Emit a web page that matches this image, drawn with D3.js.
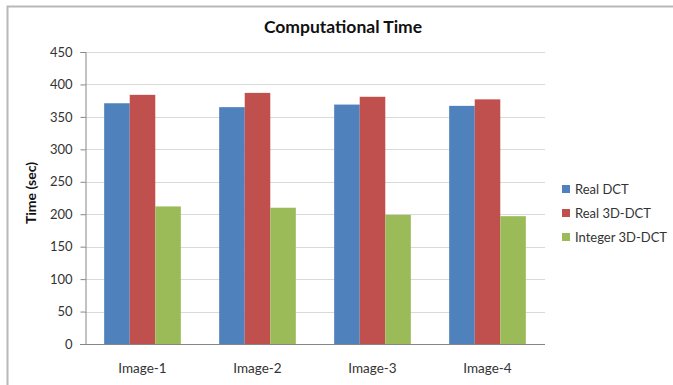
<!DOCTYPE html>
<html><head><meta charset="utf-8">
<script src="https://cdn.jsdelivr.net/npm/d3@7"></script>
<style>body{margin:0;background:#fff}svg{display:block}text{font-family:Lato,"Open Sans",sans-serif}</style>
</head><body>
<svg id="c" width="673" height="385"></svg>
<script>
const categories = ["Image-1", "Image-2", "Image-3", "Image-4"];
const seriesNames = ["Real DCT", "Real 3D-DCT", "Integer 3D-DCT"];
const realDCT = [371, 365, 369, 367];
const real3D = [384, 387, 381, 377];
const int3D = [212, 210, 199, 197];
const yTicks = [0, 50, 100, 150, 200, 250, 300, 350, 400, 450];
const colors = ["#4f81bd", "#c0504d", "#9bbb59"];
const series = [realDCT, real3D, int3D];

const svg = d3.select("#c");
// chart border (cropped: only top and left visible)
svg.append("rect").attr("x", 7.5).attr("y", 6.5).attr("width", 700).attr("height", 420)
  .attr("fill", "none").attr("stroke", "#b8b8b8").attr("stroke-width", 2);

const pL = 85, pR = 545, pT = 52, pB = 344;
const x = d3.scaleBand().domain(categories).range([pL, pR]).paddingInner(0).paddingOuter(0);
const y = d3.scaleLinear().domain([0, 450]).range([pB, pT]);
const barW = x.bandwidth() / (3 + 1.5);
const gx = d3.scaleBand().domain(d3.range(3)).range([0, barW * 3]);

// gridlines
svg.append("g").selectAll("line").data(yTicks.filter(d => d > 0)).join("line")
  .attr("x1", pL).attr("x2", pR).attr("y1", d => Math.round(y(d)) + 0.5).attr("y2", d => Math.round(y(d)) + 0.5)
  .attr("stroke", "#d9d9d9").attr("stroke-width", 1);

// bars
series.forEach((vals, si) => {
  svg.append("g").selectAll("rect").data(vals).join("rect")
    .attr("x", (d, i) => x(categories[i]) + barW * 0.75 + gx(si))
    .attr("width", gx.bandwidth())
    .attr("y", d => y(d)).attr("height", d => y(0) - y(d))
    .attr("fill", colors[si]);
});

// y axis
const yAxis = d3.axisLeft(y).tickValues(yTicks).tickSize(5).tickPadding(8);
const ya = svg.append("g").attr("transform", `translate(${pL + 0.5},0)`).call(yAxis);
ya.select(".domain").attr("stroke", "#868686");
ya.selectAll(".tick line").attr("stroke", "#868686");
ya.selectAll("text").attr("font-size", 13).attr("fill", "#333").style("font-family", "Lato, sans-serif");

// x axis baseline
svg.append("line").attr("x1", pL - 5).attr("x2", pR).attr("y1", pB + 0.5).attr("y2", pB + 0.5).attr("stroke", "#868686");
svg.append("g").selectAll("text").data(categories).join("text")
  .attr("x", d => x(d) + x.bandwidth() / 2).attr("y", 373)
  .attr("text-anchor", "middle").attr("font-size", 13.5).attr("fill", "#333").text(d => d);

// title
svg.append("text").attr("x", 343).attr("y", 33).attr("text-anchor", "middle")
  .attr("font-size", 17.5).attr("font-weight", "bold").attr("fill", "#111").text("Computational Time");

// y label
svg.append("text").attr("transform", "translate(36,193) rotate(-90)").attr("text-anchor", "middle")
  .attr("font-size", 14).attr("font-weight", "bold").attr("fill", "#111").text("Time (sec)");

// legend
const lg = svg.append("g").selectAll("g").data(seriesNames).join("g")
  .attr("transform", (d, i) => `translate(562,${189 + i * 24})`);
lg.append("rect").attr("x", 0).attr("y", -4).attr("width", 8).attr("height", 8).attr("fill", (d, i) => colors[i]);
lg.append("text").attr("x", 13).attr("y", 4.5).attr("font-size", 13).attr("fill", "#333").text(d => d);
</script>
</body></html>
